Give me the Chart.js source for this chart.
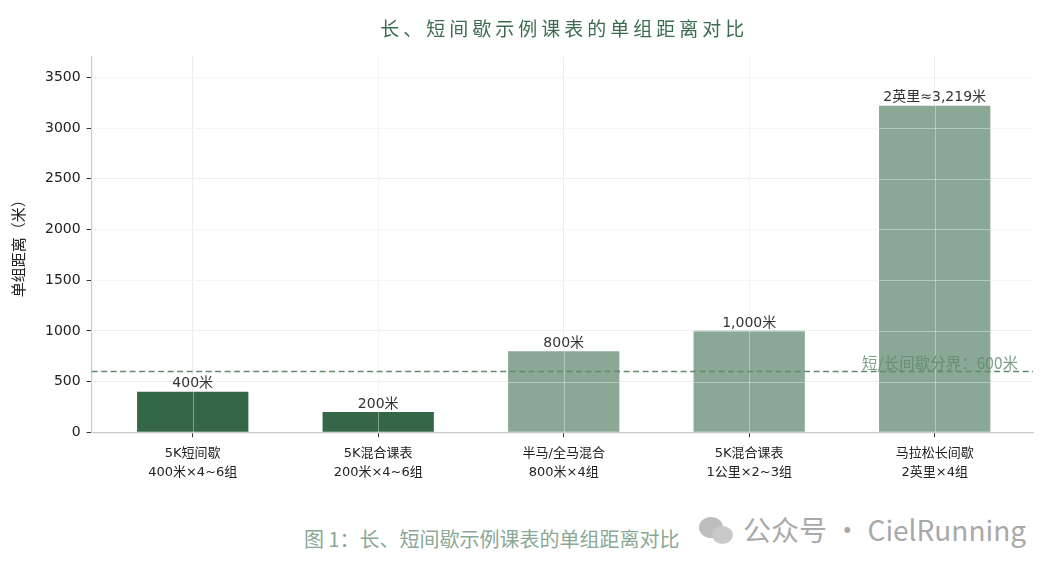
<!DOCTYPE html>
<html>
<head>
<meta charset="utf-8">
<script src="https://cdn.jsdelivr.net/npm/chart.js@4.4.1/dist/chart.umd.min.js"></script>
<style>
  body { margin: 0; background: #fff; font-family: "Noto Sans CJK SC", "DejaVu Sans", sans-serif; }
  #wrap { position: relative; width: 1061px; height: 573px; }
  #chartBox { position: absolute; left: 0; top: 0; width: 1061px; height: 490px; }
  #caption { position: absolute; left: 304px; top: 524px; font-size: 20px; color: #8aa895; }
  #mark { position: absolute; left: 697px; top: 509px; font-size: 28px; color: #a9a9a9; font-family: "Noto Sans CJK SC", "Open Sans", sans-serif; }
  .wx { display: inline-block; position: relative; width: 46px; height: 30px; vertical-align: -4px; }
  .wx i { position: absolute; border-radius: 50%; background: #bdbdbd; }
</style>
</head>
<body>
<div id="wrap">
  <div id="chartBox"><canvas id="distChart"></canvas></div>
  <div id="caption">图 1：长、短间歇示例课表的单组距离对比</div>
  <div id="mark"><span class="wx"><i style="left:2px;top:2px;width:24px;height:21px"></i><i style="left:15px;top:11px;width:21px;height:18px;background:#c9c9c9"></i></span>公众号 · CielRunning</div>
</div>
<script>
// Chart data
const categories = [
    ['5K短间歇', '400米×4~6组'],
    ['5K混合课表', '200米×4~6组'],
    ['半马/全马混合', '800米×4组'],
    ['5K混合课表', '1公里×2~3组'],
    ['马拉松长间歇', '2英里×4组']
];
const distances = [400, 200, 800, 1000, 3219];
const barLabels = ['400米', '200米', '800米', '1,000米', '2英里≈3,219米'];
const isShort = [true, true, false, false, false];
const yTicks = [0, 500, 1000, 1500, 2000, 2500, 3000, 3500];
const threshold = 600;
const thresholdLabel = '短/长间歇分界：600米';
const chartTitle = '长、短间歇示例课表的单组距离对比';

const darkGreen = '#356647';
const lightGreen = '#8aa895';

// Grid lines drawn again on top of the bars (as in the source picture)
const gridOverPlugin = {
    id: 'gridOver',
    afterDatasetsDraw(chart) {
        const ctx = chart.ctx;
        const area = chart.chartArea;
        const xs = chart.scales.x;
        const ys = chart.scales.y;
        ctx.save();
        ctx.strokeStyle = 'rgba(255, 255, 255, 0.38)';
        ctx.lineWidth = 1;
        ctx.beginPath();
        xs.ticks.forEach(t => {
            const px = Math.round(xs.getPixelForValue(t.value)) + 0.5;
            ctx.moveTo(px, area.top);
            ctx.lineTo(px, area.bottom);
        });
        ys.ticks.forEach(t => {
            if (t.value === 0) return;
            const py = Math.round(ys.getPixelForValue(t.value)) + 0.5;
            ctx.moveTo(area.left, py);
            ctx.lineTo(area.right, py);
        });
        ctx.stroke();
        ctx.restore();
    }
};

// Title over plot centre, bar value labels, threshold line
const overlayPlugin = {
    id: 'overlay',
    afterDraw(chart) {
        const ctx = chart.ctx;
        const area = chart.chartArea;
        const y = chart.scales.y;
        const yPos = y.getPixelForValue(threshold);

        ctx.save();
        ctx.font = '19px "Noto Sans CJK SC", sans-serif';
        ctx.letterSpacing = '4px';
        ctx.fillStyle = '#3d6d50';
        ctx.textAlign = 'center';
        ctx.textBaseline = 'middle';
        ctx.fillText(chartTitle, (area.left + area.right) / 2 + 2, 29);
        ctx.letterSpacing = '0px';

        ctx.strokeStyle = '#5f8a6e';
        ctx.lineWidth = 1.6;
        ctx.setLineDash([6, 3.5]);
        ctx.beginPath();
        ctx.moveTo(area.left, yPos);
        ctx.lineTo(area.right, yPos);
        ctx.stroke();
        ctx.setLineDash([]);

        ctx.font = '15.5px "Noto Sans CJK SC", "DejaVu Sans", sans-serif';
        ctx.fillStyle = 'rgba(95, 135, 108, 0.8)';
        ctx.textAlign = 'right';
        ctx.textBaseline = 'bottom';
        ctx.fillText(thresholdLabel, area.right - 15, yPos - 1);

        const meta = chart.getDatasetMeta(0);
        ctx.fillStyle = '#333';
        ctx.textAlign = 'center';
        ctx.font = '14px "DejaVu Sans", "Noto Sans CJK SC", sans-serif';
        meta.data.forEach((bar, i) => {
            ctx.fillText(barLabels[i], bar.x, bar.y - 1);
        });
        ctx.restore();
    }
};

function createDistChart() {
    const ctx = document.getElementById('distChart').getContext('2d');

    return new Chart(ctx, {
        type: 'bar',
        data: {
            datasets: [{
                data: distances.map((v, i) => ({ x: i, y: v })),
                backgroundColor: isShort.map(s => s ? darkGreen : lightGreen),
                borderWidth: 0,
                barPercentage: 0.6,
                categoryPercentage: 1.0
            }]
        },
        options: {
            responsive: true,
            maintainAspectRatio: false,
            animation: false,
            layout: {
                padding: { left: 9, right: 28, top: 57, bottom: 1 }
            },
            plugins: {
                legend: { display: false },
                tooltip: { enabled: false }
            },
            scales: {
                x: {
                    type: 'linear',
                    offset: false,
                    min: -0.545,
                    max: 4.53,
                    afterBuildTicks(axis) {
                        axis.ticks = categories.map((c, i) => ({ value: i }));
                    },
                    grid: {
                        offset: false,
                        color: '#ececec',
                        tickColor: '#333',
                        tickLength: 5
                    },
                    border: { color: '#cccccc', width: 1.2 },
                    ticks: {
                        color: '#222',
                        font: { size: 13, lineHeight: 1.45, family: '"DejaVu Sans", "Noto Sans CJK SC", sans-serif' },
                        padding: 7,
                        maxRotation: 0,
                        autoSkip: false,
                        callback: value => categories[value]
                    }
                },
                y: {
                    min: 0,
                    max: 3700,
                    afterBuildTicks(axis) {
                        axis.ticks = yTicks.map(v => ({ value: v }));
                    },
                    grid: {
                        color: '#efefef',
                        tickColor: '#333',
                        tickLength: 5
                    },
                    border: { color: '#cccccc', width: 1.2 },
                    ticks: {
                        color: '#222',
                        font: { size: 14, family: '"DejaVu Sans", sans-serif' },
                        padding: 6,
                        callback: value => String(value)
                    },
                    title: {
                        display: true,
                        text: '单组距离（米）',
                        color: '#222',
                        font: { size: 15, family: '"Noto Sans CJK SC", sans-serif' },
                        padding: { top: 0, bottom: 12 }
                    }
                }
            }
        },
        plugins: [gridOverPlugin, overlayPlugin]
    });
}

let distChart = null;
document.addEventListener('DOMContentLoaded', () => {
    distChart = createDistChart();
});
</script>
</body>
</html>
